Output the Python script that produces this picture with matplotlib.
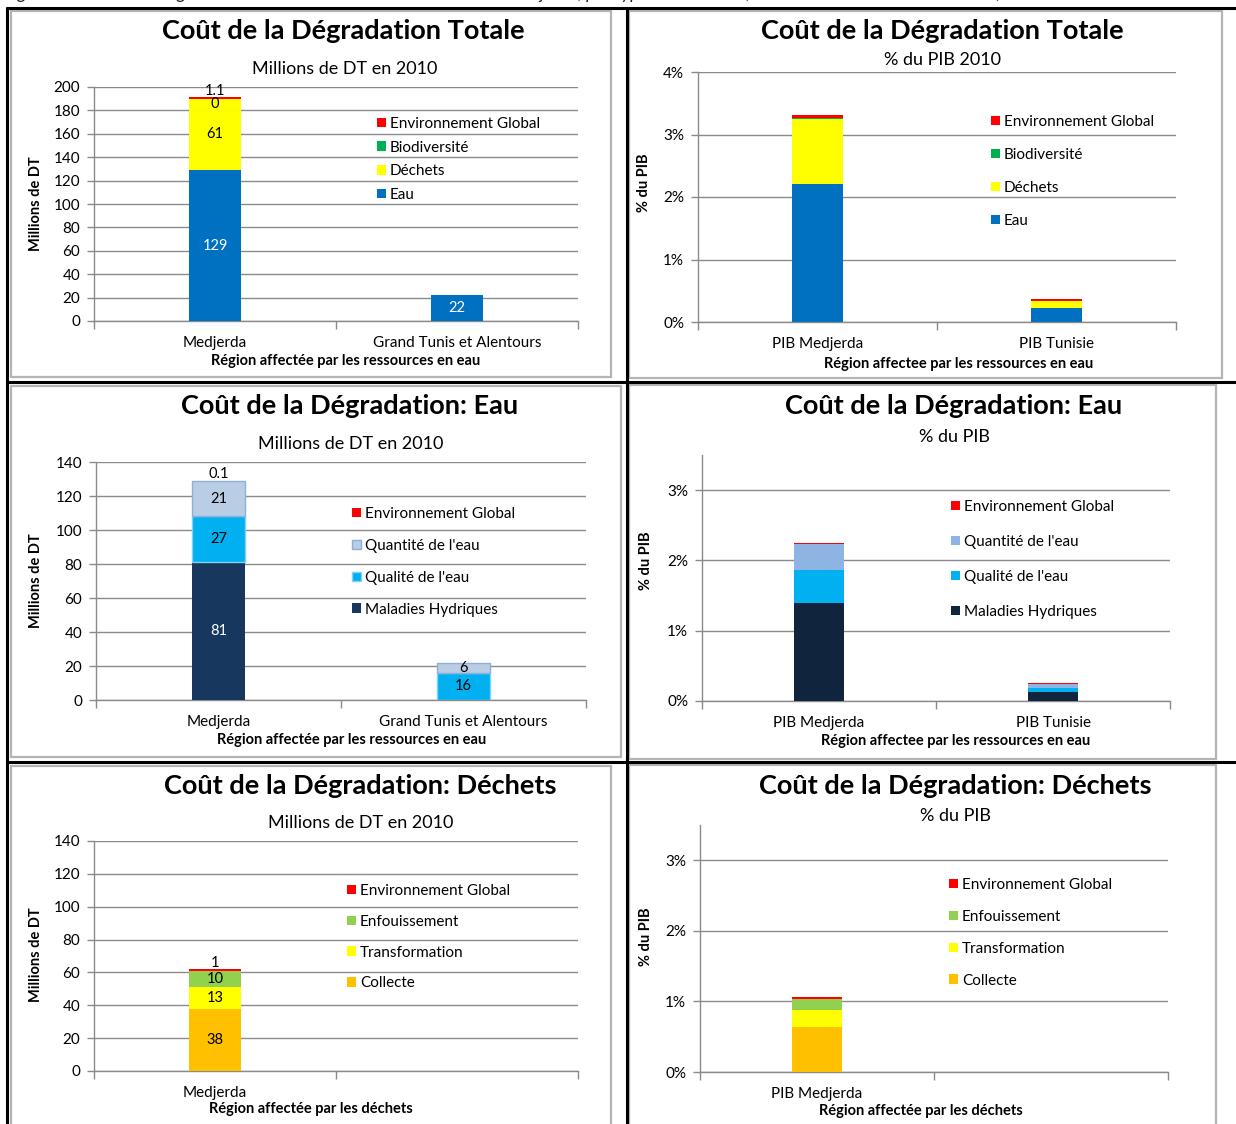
import matplotlib
matplotlib.use("Agg")
import matplotlib.pyplot as plt
from matplotlib.patches import Rectangle, Patch
from matplotlib.lines import Line2D
import numpy as np

W, H = 1236, 1124
plt.rcParams['font.family'] = ['Lato', 'DejaVu Sans']

# ---------------- data ----------------
# Total degradation, millions DT 2010 (None = empty cell, no label)
tot_regions = ["Medjerda", "Grand Tunis et Alentours"]
tot_eau = [129, 22]
tot_dechets = [61, None]
tot_biodiv = [0, None]
tot_env = [1.1, None]

# Total degradation, % of GDP 2010
pib_regions = ["PIB Medjerda", "PIB Tunisie"]
pib_eau = [2.21, 0.23]
pib_dechets = [1.04, 0.10]
pib_biodiv = [0.02, 0.01]
pib_env = [0.04, 0.03]

# Water degradation, millions DT 2010
eau_regions = ["Medjerda", "Grand Tunis et Alentours"]
eau_maladies = [81, None]
eau_qualite = [27, 16]
eau_quantite = [21, 6]
eau_env = [0.1, None]

# Water degradation, % of GDP
eau_pib_maladies = [1.40, 0.13]
eau_pib_qualite = [0.46, 0.06]
eau_pib_quantite = [0.37, 0.045]
eau_pib_env = [0.02, 0.025]

# Waste degradation, millions DT 2010
dech_regions = ["Medjerda", ""]
dech_collecte = [38, None]
dech_transfo = [13, None]
dech_enfouis = [10, None]
dech_env = [1, None]

# Waste degradation, % of GDP
dech_pib_regions = ["PIB Medjerda", ""]
dech_pib_collecte = [0.64, None]
dech_pib_transfo = [0.24, None]
dech_pib_enfouis = [0.16, None]
dech_pib_env = [0.02, None]

RED = "#FF0000"
C_EAU = "#0070C0"
C_DECH = "#FFFF00"
C_BIO = "#00B050"
C_QUAL = "#00B0F0"
C_COLL = "#FFC000"
C_ENF = "#92D050"
GRID = "#8A8A8A"

fig = plt.figure(figsize=(W / 100, H / 100), dpi=100)


def fx(x):
    return x / W


def fy(y):
    return 1 - y / H


# ---------------- page frame ----------------
def hline(y, x0, x1, color, lw):
    fig.add_artist(Line2D([fx(x0), fx(x1)], [fy(y), fy(y)], color=color, lw=lw,
                          transform=fig.transFigure, solid_capstyle='butt'))


def vline(x, y0, y1, color, lw):
    fig.add_artist(Line2D([fx(x), fx(x)], [fy(y0), fy(y1)], color=color, lw=lw,
                          transform=fig.transFigure, solid_capstyle='butt'))


fig.text(fx(4), fy(-0.5), "Figure 3 : Coût de la dégradation environnementale du bassin de la Medjerda, "
         "par type de ressource, en Millions de DT et en % du PIB, 2010",
         fontsize=13, color="#222222", va="baseline", ha="left", style="italic")

for y in (7.5, 381.5, 762):
    hline(y, 6, W, "black", 2.2)
vline(7, 6.5, H, "black", 2.2)
vline(626.5, 6.5, H, "black", 2.2)

for (x0, y0, x1, y1) in [(11, 11, 611, 377), (629, 11, 1222, 378),
                         (11, 386, 621, 757), (629, 385, 1216, 759),
                         (11, 766, 611, 1130), (629, 765, 1216, 1130)]:
    fig.add_artist(Rectangle((fx(x0), fy(y1)), (x1 - x0) / W, (y1 - y0) / H,
                             transform=fig.transFigure, fill=False,
                             edgecolor="#B4B4B4", lw=1.6))


# ---------------- one chart ----------------
def chart(p):
    l, t, r, b = p["axes"]
    ax = fig.add_axes([fx(l), fy(b), (r - l) / W, (b - t) / H])
    x = np.arange(len(p["cats"]))
    bottom = np.zeros(len(x))
    handles = []
    for s in p["series"]:
        vals = np.array([0 if v is None else v for v in s["values"]], dtype=float)
        ax.bar(x, vals, 0.215, bottom=bottom, color=s["color"],
               edgecolor=s.get("edge", "none"), linewidth=s.get("lw", 0),
               zorder=3)
        if p.get("labels", False):
            for xi, v, b0 in zip(x, s["values"], bottom):
                if v is None:
                    continue
                ax.annotate(f"{v:g}", (xi, b0 + v / 2), xytext=(0, s.get("dy", 0)),
                            textcoords="offset points", ha="center", va="center",
                            fontsize=10.5, color=s.get("tc", "black"), zorder=5)
        bottom = bottom + vals
        handles.append(Patch(facecolor=s["color"], edgecolor=s.get("edge", "none"),
                             linewidth=s.get("lw", 0), label=s["name"]))

    ax.set_xlim(-0.5, len(x) - 0.5)
    ax.set_ylim(0, p["ymax"])
    ax.set_yticks(p["yticks"])
    if p["pct"]:
        ax.set_yticklabels([f"{v:g}%" for v in p["yticks"]])
    ax.set_xticks(x)
    ax.set_xticklabels(p["cats"])
    ax.set_xticks(np.arange(len(x) + 1) - 0.5, minor=True)
    ax.tick_params(axis="x", which="major", length=0, pad=11, labelsize=11)
    ax.tick_params(axis="x", which="minor", length=6, color=GRID, width=1)
    ax.tick_params(axis="y", length=5, color=GRID, width=1, pad=5, labelsize=11)
    for side in ("top", "right"):
        ax.spines[side].set_visible(False)
    for side in ("left", "bottom"):
        ax.spines[side].set_color(GRID)
        ax.spines[side].set_linewidth(1)
    ax.yaxis.grid(True, color=GRID, lw=1, zorder=0)
    ax.set_axisbelow(True)
    ax.patch.set_visible(False)

    ax.set_ylabel(p["ylabel"], fontsize=10.5, fontweight="bold", ha="center", va="center")
    yl_x, yl_y = p["ylabel_at"]
    ax.yaxis.set_label_coords((yl_x - l) / (r - l), (b - yl_y) / (b - t))
    ax.set_xlabel(p["xlabel"], fontsize=10.5, fontweight="bold", ha="center", va="center")
    xl_x, xl_y = p["xlabel_at"]
    ax.xaxis.set_label_coords((xl_x - l) / (r - l), (b - xl_y) / (b - t))

    lx, ly = p["legend_at"]
    ax.legend(handles[::-1], [h.get_label() for h in handles[::-1]],
              loc="upper left", bbox_to_anchor=(fx(lx), fy(ly)),
              bbox_transform=fig.transFigure, frameon=False, fontsize=11,
              handlelength=0.6, handleheight=0.6, handletextpad=0.25,
              borderpad=0, borderaxespad=0, labelspacing=p["legend_sp"])

    tx, ty = p["title_at"]
    fig.text(fx(tx), fy(ty), p["title"], fontsize=19.5, fontweight="bold",
             ha="center", va="center")
    sx, sy = p["sub_at"]
    fig.text(fx(sx), fy(sy), p["sub"], fontsize=13, ha="center", va="center")
    return ax


MDT = "Millions de DT en 2010"
XW = "Région affectée par les ressources en eau"
XWp = "Région affectee par les ressources en eau"
XD = "Région affectée par les déchets"

panels = [
    dict(axes=(94, 87, 578, 321), cats=tot_regions, ymax=200, yticks=range(0, 201, 20),
         pct=False, labels=True,
         series=[dict(name="Eau", values=tot_eau, color=C_EAU, tc="white"),
                 dict(name="Déchets", values=tot_dechets, color=C_DECH),
                 dict(name="Biodiversité", values=tot_biodiv, color=C_BIO, dy=-4),
                 dict(name="Environnement Global", values=tot_env, color=RED, dy=5)],
         ylabel="Millions de DT", ylabel_at=(36, 204),
         xlabel=XW, xlabel_at=(346, 361), legend_at=(377, 117), legend_sp=0.63,
         title="Coût de la Dégradation Totale", title_at=(343, 31),
         sub=MDT, sub_at=(345, 69)),
    dict(axes=(698, 72, 1176, 322), cats=pib_regions, ymax=4, yticks=range(0, 5),
         pct=True,
         series=[dict(name="Eau", values=pib_eau, color=C_EAU),
                 dict(name="Déchets", values=pib_dechets, color=C_DECH),
                 dict(name="Biodiversité", values=pib_biodiv, color=C_BIO),
                 dict(name="Environnement Global", values=pib_env, color=RED)],
         ylabel="% du PIB", ylabel_at=(644, 183),
         xlabel=XWp, xlabel_at=(959, 364), legend_at=(991, 115), legend_sp=1.24,
         title="Coût de la Dégradation Totale", title_at=(942, 31),
         sub="% du PIB 2010", sub_at=(943, 60)),
    dict(axes=(96, 462, 586, 700), cats=eau_regions, ymax=140, yticks=range(0, 141, 20),
         pct=False, labels=True,
         series=[dict(name="Maladies Hydriques", values=eau_maladies, color="#17375E", tc="white"),
                 dict(name="Qualité de l'eau", values=eau_qualite, color=C_QUAL,
                      edge="#7FD3F2", lw=1),
                 dict(name="Quantité de l'eau", values=eau_quantite, color="#B9CDE5",
                      edge="#8EAFD8", lw=1),
                 dict(name="Environnement Global", values=eau_env, color=RED, dy=5)],
         ylabel="Millions de DT", ylabel_at=(36, 581),
         xlabel=XW, xlabel_at=(352, 740), legend_at=(352, 507), legend_sp=1.17,
         title="Coût de la Dégradation: Eau", title_at=(350, 406),
         sub=MDT, sub_at=(351, 444)),
    dict(axes=(702, 455, 1170, 701), cats=pib_regions, ymax=3.5, yticks=range(0, 4),
         pct=True,
         series=[dict(name="Maladies Hydriques", values=eau_pib_maladies, color="#10243E"),
                 dict(name="Qualité de l'eau", values=eau_pib_qualite, color=C_QUAL),
                 dict(name="Quantité de l'eau", values=eau_pib_quantite, color="#8EB4E3"),
                 dict(name="Environnement Global", values=eau_pib_env, color=RED)],
         ylabel="% du PIB", ylabel_at=(646, 561),
         xlabel=XWp, xlabel_at=(956, 741), legend_at=(951, 500), legend_sp=1.37,
         title="Coût de la Dégradation: Eau", title_at=(954, 406),
         sub="% du PIB", sub_at=(954, 437)),
    dict(axes=(94, 841, 578, 1071), cats=dech_regions, ymax=140, yticks=range(0, 141, 20),
         pct=False, labels=True,
         series=[dict(name="Collecte", values=dech_collecte, color=C_COLL),
                 dict(name="Transformation", values=dech_transfo, color=C_DECH),
                 dict(name="Enfouissement", values=dech_enfouis, color=C_ENF),
                 dict(name="Environnement Global", values=dech_env, color=RED, dy=5)],
         ylabel="Millions de DT", ylabel_at=(36, 955),
         xlabel=XD, xlabel_at=(311, 1109), legend_at=(347, 884), legend_sp=1.10,
         title="Coût de la Dégradation: Déchets", title_at=(360, 786),
         sub=MDT, sub_at=(361, 823)),
    dict(axes=(700, 825, 1168, 1072), cats=dech_pib_regions, ymax=3.5, yticks=range(0, 4),
         pct=True,
         series=[dict(name="Collecte", values=dech_pib_collecte, color=C_COLL),
                 dict(name="Transformation", values=dech_pib_transfo, color=C_DECH),
                 dict(name="Enfouissement", values=dech_pib_enfouis, color=C_ENF),
                 dict(name="Environnement Global", values=dech_pib_env, color=RED)],
         ylabel="% du PIB", ylabel_at=(646, 937),
         xlabel=XD, xlabel_at=(921, 1111), legend_at=(949, 878), legend_sp=1.17,
         title="Coût de la Dégradation: Déchets", title_at=(955, 786),
         sub="% du PIB", sub_at=(955, 816)),
]

for p in panels:
    chart(p)

fig.savefig("out.png", dpi=100)
